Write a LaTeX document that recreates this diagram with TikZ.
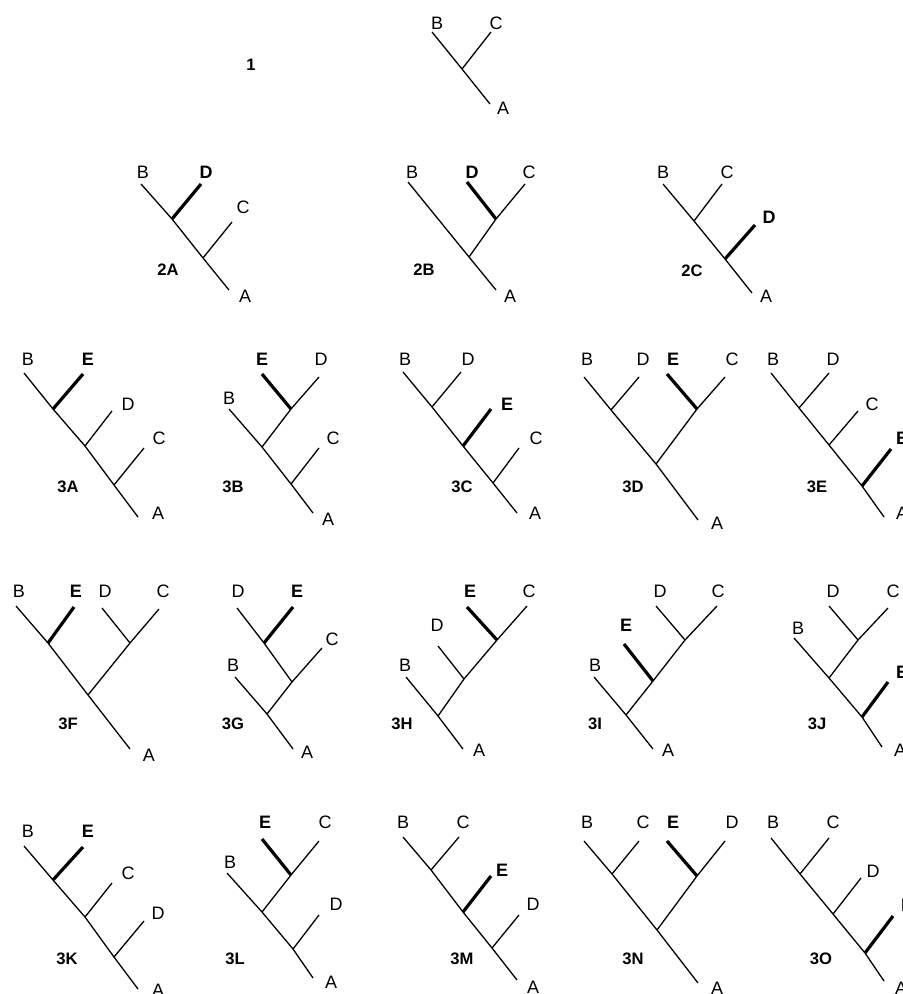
\documentclass[tikz,border=0pt]{standalone}
\usepackage{fontspec}
\setmainfont{Liberation Sans}
\usepackage{tikz}
\usetikzlibrary{calc}

\tikzset{
  edge/.style={line width=0.65pt},
  hl/.style={line width=1.6pt},
  leaf/.style={inner sep=0pt, font=\fontsize{9}{10}\selectfont},
  hleaf/.style={leaf, font=\fontsize{9}{10}\selectfont\bfseries},
  tname/.style={inner sep=0pt, font=\fontsize{8.3}{9}\selectfont\bfseries},
}

\begin{document}
\begin{tikzpicture}[x=0.5pt, y=-0.5pt]
  \useasboundingbox (0,0) rectangle (903,994);
  \clip (0,0) rectangle (903,994);

  % Tree 1
  \coordinate (1-B) at (432,32);
  \coordinate (1-C) at (491,32);
  \coordinate (1-x) at (462,69);
  \coordinate (1-A) at (490,104);
  \draw[edge] (1-B) -- (1-x) -- (1-A);
  \draw[edge] (1-x) -- (1-C);
  \node[leaf] (1-lB) at (437,23) {B};
  \node[leaf] (1-lC) at (496,23) {C};
  \node[leaf] (1-lA) at (503,108) {A};
  \node[tname] (t1) at (251,65) {1};

  % Tree 2A
  \coordinate (2A-B) at (141,184);
  \coordinate (2A-x1) at (172,219);
  \coordinate (2A-D) at (201,184);
  \coordinate (2A-x2) at (203,258);
  \coordinate (2A-C) at (232,222);
  \coordinate (2A-A) at (229,290);
  \draw[edge] (2A-B) -- (2A-x1) -- (2A-x2) -- (2A-A);
  \draw[hl] (2A-x1) -- (2A-D);
  \draw[edge] (2A-x2) -- (2A-C);
  \node[leaf] (2A-lB) at (143,172) {B};
  \node[hleaf] (2A-lD) at (206,172) {D};
  \node[leaf] (2A-lC) at (243,207) {C};
  \node[leaf] (2A-lA) at (245,296) {A};
  \node[tname] (t2A) at (168,270) {2A};

  % Tree 2B
  \coordinate (2B-B) at (408,182);
  \coordinate (2B-r) at (469,257);
  \coordinate (2B-A) at (496,290);
  \coordinate (2B-y) at (496,219);
  \coordinate (2B-D) at (467,182);
  \coordinate (2B-C) at (525,184);
  \draw[edge] (2B-B) -- (2B-r) -- (2B-A);
  \draw[edge] (2B-r) -- (2B-y) -- (2B-C);
  \draw[hl] (2B-D) -- (2B-y);
  \node[leaf] (2B-lB) at (412,172) {B};
  \node[hleaf] (2B-lD) at (472,172) {D};
  \node[leaf] (2B-lC) at (529,172) {C};
  \node[leaf] (2B-lA) at (510,296) {A};
  \node[tname] (t2B) at (424,270) {2B};

  % Tree 2C
  \coordinate (2C-B) at (663,184);
  \coordinate (2C-x1) at (694,221);
  \coordinate (2C-C) at (722,184);
  \coordinate (2C-x2) at (725,259);
  \coordinate (2C-D) at (755,225);
  \coordinate (2C-A) at (752,293);
  \draw[edge] (2C-B) -- (2C-x1) -- (2C-x2) -- (2C-A);
  \draw[edge] (2C-x1) -- (2C-C);
  \draw[hl] (2C-x2) -- (2C-D);
  \node[leaf] (2C-lB) at (663,172) {B};
  \node[leaf] (2C-lC) at (727,172) {C};
  \node[hleaf] (2C-lD) at (769,217) {D};
  \node[leaf] (2C-lA) at (766,296) {A};
  \node[tname] (t2C) at (692,271) {2C};

  % Tree 3A
  \coordinate (3A-B) at (24,373);
  \coordinate (3A-x1) at (53,409);
  \coordinate (3A-E) at (83,374);
  \coordinate (3A-x2) at (85,446);
  \coordinate (3A-D) at (112,411);
  \coordinate (3A-x3) at (114,485);
  \coordinate (3A-C) at (144,448);
  \coordinate (3A-A) at (138,517);
  \draw[edge] (3A-B) -- (3A-x1) -- (3A-x2) -- (3A-x3) -- (3A-A);
  \draw[hl] (3A-x1) -- (3A-E);
  \draw[edge] (3A-x2) -- (3A-D);
  \draw[edge] (3A-x3) -- (3A-C);
  \node[leaf] (3A-lB) at (28,359) {B};
  \node[hleaf] (3A-lE) at (88,359) {E};
  \node[leaf] (3A-lD) at (128,404) {D};
  \node[leaf] (3A-lC) at (159,438) {C};
  \node[leaf] (3A-lA) at (158,513) {A};
  \node[tname] (t3A) at (68,487) {3A};

  % Tree 3B
  \coordinate (3B-B) at (229,409);
  \coordinate (3B-x1) at (262,447);
  \coordinate (3B-y) at (291,409);
  \coordinate (3B-E) at (262,374);
  \coordinate (3B-D) at (319,377);
  \coordinate (3B-x2) at (291,484);
  \coordinate (3B-C) at (319,448);
  \coordinate (3B-A) at (313,513);
  \draw[edge] (3B-B) -- (3B-x1) -- (3B-x2) -- (3B-A);
  \draw[edge] (3B-x1) -- (3B-y) -- (3B-D);
  \draw[hl] (3B-E) -- (3B-y);
  \draw[edge] (3B-x2) -- (3B-C);
  \node[leaf] (3B-lB) at (229,398) {B};
  \node[hleaf] (3B-lE) at (262,359) {E};
  \node[leaf] (3B-lD) at (321,359) {D};
  \node[leaf] (3B-lC) at (333,438) {C};
  \node[leaf] (3B-lA) at (328,519) {A};
  \node[tname] (t3B) at (233,487) {3B};

  % Tree 3C
  \coordinate (3C-B) at (403,372);
  \coordinate (3C-x1) at (432,407);
  \coordinate (3C-D) at (461,372);
  \coordinate (3C-x2) at (463,446);
  \coordinate (3C-E) at (491,409);
  \coordinate (3C-x3) at (493,483);
  \coordinate (3C-C) at (519,448);
  \coordinate (3C-A) at (517,513);
  \draw[edge] (3C-B) -- (3C-x1) -- (3C-x2) -- (3C-x3) -- (3C-A);
  \draw[edge] (3C-x1) -- (3C-D);
  \draw[hl] (3C-x2) -- (3C-E);
  \draw[edge] (3C-x3) -- (3C-C);
  \node[leaf] (3C-lB) at (405,359) {B};
  \node[leaf] (3C-lD) at (468,359) {D};
  \node[hleaf] (3C-lE) at (507,404) {E};
  \node[leaf] (3C-lC) at (536,438) {C};
  \node[leaf] (3C-lA) at (535,513) {A};
  \node[tname] (t3C) at (462,487) {3C};

  % Tree 3D
  \coordinate (3D-B) at (584,377);
  \coordinate (3D-x1) at (611,410);
  \coordinate (3D-D) at (639,377);
  \coordinate (3D-r) at (656,464);
  \coordinate (3D-A) at (698,520);
  \coordinate (3D-y) at (697,409);
  \coordinate (3D-E) at (667,374);
  \coordinate (3D-C) at (725,377);
  \draw[edge] (3D-B) -- (3D-x1) -- (3D-r) -- (3D-A);
  \draw[edge] (3D-x1) -- (3D-D);
  \draw[edge] (3D-r) -- (3D-y) -- (3D-C);
  \draw[hl] (3D-E) -- (3D-y);
  \node[leaf] (3D-lB) at (587,359) {B};
  \node[leaf] (3D-lD) at (643,359) {D};
  \node[hleaf] (3D-lE) at (673,359) {E};
  \node[leaf] (3D-lC) at (732,359) {C};
  \node[leaf] (3D-lA) at (717,523) {A};
  \node[tname] (t3D) at (633,487) {3D};

  % Tree 3E
  \coordinate (3E-B) at (771,373);
  \coordinate (3E-x1) at (799,408);
  \coordinate (3E-D) at (829,373);
  \coordinate (3E-x2) at (829,445);
  \coordinate (3E-C) at (858,411);
  \coordinate (3E-x3) at (862,486);
  \coordinate (3E-E) at (891,449);
  \coordinate (3E-A) at (884,517);
  \draw[edge] (3E-B) -- (3E-x1) -- (3E-x2) -- (3E-x3) -- (3E-A);
  \draw[edge] (3E-x1) -- (3E-D);
  \draw[edge] (3E-x2) -- (3E-C);
  \draw[hl] (3E-x3) -- (3E-E);
  \node[leaf] (3E-lB) at (773,359) {B};
  \node[leaf] (3E-lD) at (833,359) {D};
  \node[leaf] (3E-lC) at (872,404) {C};
  \node[hleaf] (3E-lE) at (902,438) {E};
  \node[leaf] (3E-lA) at (902,513) {A};
  \node[tname] (t3E) at (817,487) {3E};

  % Tree 3F
  \coordinate (3F-B) at (16,606);
  \coordinate (3F-x1) at (48,643);
  \coordinate (3F-E) at (74,607);
  \coordinate (3F-r) at (88,695);
  \coordinate (3F-A) at (130,749);
  \coordinate (3F-y) at (130,643);
  \coordinate (3F-D) at (102,608);
  \coordinate (3F-C) at (159,609);
  \draw[edge] (3F-B) -- (3F-x1) -- (3F-r) -- (3F-A);
  \draw[hl] (3F-x1) -- (3F-E);
  \draw[edge] (3F-r) -- (3F-y) -- (3F-C);
  \draw[edge] (3F-D) -- (3F-y);
  \node[leaf] (3F-lB) at (19,591) {B};
  \node[hleaf] (3F-lE) at (76,591) {E};
  \node[leaf] (3F-lD) at (105,591) {D};
  \node[leaf] (3F-lC) at (163,591) {C};
  \node[leaf] (3F-lA) at (149,755) {A};
  \node[tname] (t3F) at (68,724) {3F};

  % Tree 3G
  \coordinate (3G-D) at (237,608);
  \coordinate (3G-x1) at (264,643);
  \coordinate (3G-E) at (293,607);
  \coordinate (3G-x2) at (292,682);
  \coordinate (3G-C) at (322,648);
  \coordinate (3G-B) at (235,677);
  \coordinate (3G-r) at (267,714);
  \coordinate (3G-A) at (293,749);
  \draw[edge] (3G-B) -- (3G-r) -- (3G-A);
  \draw[edge] (3G-D) -- (3G-x1) -- (3G-x2) -- (3G-r);
  \draw[hl] (3G-x1) -- (3G-E);
  \draw[edge] (3G-x2) -- (3G-C);
  \node[leaf] (3G-lD) at (238,591) {D};
  \node[hleaf] (3G-lE) at (297,591) {E};
  \node[leaf] (3G-lC) at (332,639) {C};
  \node[leaf] (3G-lB) at (233,665) {B};
  \node[leaf] (3G-lA) at (307,752) {A};
  \node[tname] (t3G) at (233,724) {3G};

  % Tree 3H
  \coordinate (3H-B) at (406,677);
  \coordinate (3H-r) at (438,716);
  \coordinate (3H-A) at (463,749);
  \coordinate (3H-x1) at (464,679);
  \coordinate (3H-y) at (497,640);
  \coordinate (3H-C) at (527,606);
  \coordinate (3H-D) at (438,646);
  \coordinate (3H-E) at (467,607);
  \draw[edge] (3H-B) -- (3H-r) -- (3H-A);
  \draw[edge] (3H-r) -- (3H-x1) -- (3H-y) -- (3H-C);
  \draw[edge] (3H-D) -- (3H-x1);
  \draw[hl] (3H-E) -- (3H-y);
  \node[leaf] (3H-lD) at (437,625) {D};
  \node[hleaf] (3H-lE) at (470,591) {E};
  \node[leaf] (3H-lC) at (529,591) {C};
  \node[leaf] (3H-lB) at (405,665) {B};
  \node[leaf] (3H-lA) at (479,750) {A};
  \node[tname] (t3H) at (402,724) {3H};

  % Tree 3I
  \coordinate (3I-B) at (594,677);
  \coordinate (3I-r) at (626,715);
  \coordinate (3I-A) at (653,749);
  \coordinate (3I-x1) at (653,681);
  \coordinate (3I-E) at (624,644);
  \coordinate (3I-y) at (685,640);
  \coordinate (3I-D) at (656,606);
  \coordinate (3I-C) at (717,606);
  \draw[edge] (3I-B) -- (3I-r) -- (3I-A);
  \draw[edge] (3I-r) -- (3I-x1) -- (3I-y) -- (3I-C);
  \draw[hl] (3I-E) -- (3I-x1);
  \draw[edge] (3I-D) -- (3I-y);
  \node[leaf] (3I-lD) at (660,591) {D};
  \node[leaf] (3I-lC) at (718,591) {C};
  \node[hleaf] (3I-lE) at (626,625) {E};
  \node[leaf] (3I-lB) at (595,665) {B};
  \node[leaf] (3I-lA) at (668,750) {A};
  \node[tname] (t3I) at (595,724) {3I};

  % Tree 3J
  \coordinate (3J-B) at (794,638);
  \coordinate (3J-x1) at (829,678);
  \coordinate (3J-y) at (858,640);
  \coordinate (3J-D) at (829,606);
  \coordinate (3J-C) at (888,608);
  \coordinate (3J-x2) at (862,717);
  \coordinate (3J-E) at (888,682);
  \coordinate (3J-A) at (882,747);
  \draw[edge] (3J-B) -- (3J-x1) -- (3J-x2) -- (3J-A);
  \draw[edge] (3J-x1) -- (3J-y) -- (3J-C);
  \draw[edge] (3J-D) -- (3J-y);
  \draw[hl] (3J-x2) -- (3J-E);
  \node[leaf] (3J-lD) at (833,591) {D};
  \node[leaf] (3J-lC) at (893,591) {C};
  \node[leaf] (3J-lB) at (798,628) {B};
  \node[hleaf] (3J-lE) at (902,672) {E};
  \node[leaf] (3J-lA) at (900,750) {A};
  \node[tname] (t3J) at (817,724) {3J};

  % Tree 3K
  \coordinate (3K-B) at (24,846);
  \coordinate (3K-x1) at (53,880);
  \coordinate (3K-E) at (83,847);
  \coordinate (3K-x2) at (85,917);
  \coordinate (3K-C) at (112,883);
  \coordinate (3K-x3) at (114,957);
  \coordinate (3K-D) at (144,921);
  \coordinate (3K-A) at (138,989);
  \draw[edge] (3K-B) -- (3K-x1) -- (3K-x2) -- (3K-x3) -- (3K-A);
  \draw[hl] (3K-x1) -- (3K-E);
  \draw[edge] (3K-x2) -- (3K-C);
  \draw[edge] (3K-x3) -- (3K-D);
  \node[leaf] (3K-lB) at (28,831) {B};
  \node[hleaf] (3K-lE) at (88,831) {E};
  \node[leaf] (3K-lC) at (128,873) {C};
  \node[leaf] (3K-lD) at (158,913) {D};
  \node[leaf] (3K-lA) at (158,990) {A};
  \node[tname] (t3K) at (67,959) {3K};

  % Tree 3L
  \coordinate (3L-B) at (227,873);
  \coordinate (3L-x1) at (262,912);
  \coordinate (3L-y) at (291,875);
  \coordinate (3L-E) at (262,839);
  \coordinate (3L-C) at (319,841);
  \coordinate (3L-x2) at (293,949);
  \coordinate (3L-D) at (319,915);
  \coordinate (3L-A) at (313,978);
  \draw[edge] (3L-B) -- (3L-x1) -- (3L-x2) -- (3L-A);
  \draw[edge] (3L-x1) -- (3L-y) -- (3L-C);
  \draw[hl] (3L-E) -- (3L-y);
  \draw[edge] (3L-x2) -- (3L-D);
  \node[hleaf] (3L-lE) at (265,822) {E};
  \node[leaf] (3L-lC) at (325,822) {C};
  \node[leaf] (3L-lB) at (230,862) {B};
  \node[leaf] (3L-lD) at (336,904) {D};
  \node[leaf] (3L-lA) at (331,982) {A};
  \node[tname] (t3L) at (235,959) {3L};

  % Tree 3M
  \coordinate (3M-B) at (403,837);
  \coordinate (3M-x1) at (431,870);
  \coordinate (3M-C) at (459,837);
  \coordinate (3M-x2) at (463,912);
  \coordinate (3M-E) at (491,876);
  \coordinate (3M-x3) at (492,948);
  \coordinate (3M-D) at (519,915);
  \coordinate (3M-A) at (517,980);
  \draw[edge] (3M-B) -- (3M-x1) -- (3M-x2) -- (3M-x3) -- (3M-A);
  \draw[edge] (3M-x1) -- (3M-C);
  \draw[hl] (3M-x2) -- (3M-E);
  \draw[edge] (3M-x3) -- (3M-D);
  \node[leaf] (3M-lB) at (403,822) {B};
  \node[leaf] (3M-lC) at (463,822) {C};
  \node[hleaf] (3M-lE) at (502,870) {E};
  \node[leaf] (3M-lD) at (533,904) {D};
  \node[leaf] (3M-lA) at (533,987) {A};
  \node[tname] (t3M) at (462,959) {3M};

  % Tree 3N
  \coordinate (3N-B) at (584,841);
  \coordinate (3N-x1) at (612,874);
  \coordinate (3N-C) at (639,841);
  \coordinate (3N-r) at (657,930);
  \coordinate (3N-A) at (698,983);
  \coordinate (3N-y) at (697,876);
  \coordinate (3N-E) at (667,841);
  \coordinate (3N-D) at (725,841);
  \draw[edge] (3N-B) -- (3N-x1) -- (3N-r) -- (3N-A);
  \draw[edge] (3N-x1) -- (3N-C);
  \draw[edge] (3N-r) -- (3N-y) -- (3N-D);
  \draw[hl] (3N-E) -- (3N-y);
  \node[leaf] (3N-lB) at (587,822) {B};
  \node[leaf] (3N-lC) at (643,822) {C};
  \node[hleaf] (3N-lE) at (673,822) {E};
  \node[leaf] (3N-lD) at (732,822) {D};
  \node[leaf] (3N-lA) at (717,988) {A};
  \node[tname] (t3N) at (633,959) {3N};

  % Tree 3O
  \coordinate (3O-B) at (771,838);
  \coordinate (3O-x1) at (800,874);
  \coordinate (3O-C) at (829,838);
  \coordinate (3O-x2) at (833,914);
  \coordinate (3O-D) at (861,878);
  \coordinate (3O-x3) at (865,953);
  \coordinate (3O-E) at (893,916);
  \coordinate (3O-A) at (884,981);
  \draw[edge] (3O-B) -- (3O-x1) -- (3O-x2) -- (3O-x3) -- (3O-A);
  \draw[edge] (3O-x1) -- (3O-C);
  \draw[edge] (3O-x2) -- (3O-D);
  \draw[hl] (3O-x3) -- (3O-E);
  \node[leaf] (3O-lB) at (773,822) {B};
  \node[leaf] (3O-lC) at (833,822) {C};
  \node[leaf] (3O-lD) at (873,871) {D};
  \node[hleaf] (3O-lE) at (907,905) {E};
  \node[leaf] (3O-lA) at (901,988) {A};
  \node[tname] (t3O) at (821,959) {3O};
\end{tikzpicture}
\end{document}
